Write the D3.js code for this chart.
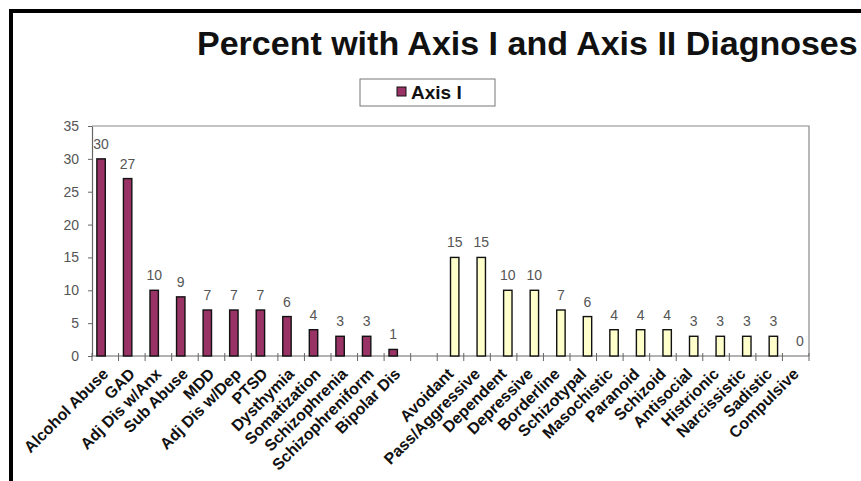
<!DOCTYPE html>
<html>
<head>
<meta charset="utf-8">
<script src="https://cdn.jsdelivr.net/npm/d3@7"></script>
<style>
  body { margin: 0; background: #fff; }
  text { font-family: Arial, "Liberation Sans", sans-serif; }
</style>
</head>
<body>
<div id="chart"></div>
<script>
var axisICategories = ["Alcohol Abuse","GAD","Adj Dis w/Anx","Sub Abuse","MDD","Adj Dis w/Dep","PTSD","Dysthymia","Somatization","Schizophrenia","Schizophreniform","Bipolar Dis"]
var axisIValues = [30,27,10,9,7,7,7,6,4,3,3,1]
var axisIICategories = ["Avoidant","Pass/Aggressive","Dependent","Depressive","Borderline","Schizotypal","Masochistic","Paranoid","Schizoid","Antisocial","Histrionic","Narcissistic","Sadistic","Compulsive"]
var axisIIValues = [15,15,10,10,7,6,4,4,4,3,3,3,3,0]
var seriesNames = ["Axis I","Axis II"]
var yTicks = [0,5,10,15,20,25,30,35]

var categories = axisICategories.concat([" "], axisIICategories)

var bars = []
axisICategories.forEach(function(c, i) { bars.push({cat: c, series: "Axis I", value: axisIValues[i]}) })
axisIICategories.forEach(function(c, i) { bars.push({cat: c, series: "Axis II", value: axisIIValues[i]}) })

var W = 861, H = 481
var plot = {left: 92, right: 809, top: 126, bottom: 356}

var svg = d3.select("#chart").append("svg")
    .attr("width", W)
    .attr("height", H)

var x0 = d3.scaleBand()
    .domain(categories)
    .range([plot.left, plot.right])
var x1 = d3.scaleBand()
    .domain(seriesNames)
    .range([0, x0.bandwidth()])
    .paddingInner(0)
    .paddingOuter(0.58)
var y = d3.scaleLinear()
    .domain([0, 35])
    .range([plot.bottom, plot.top])

var colors = {"Axis I": "#993366", "Axis II": "#FFFFCC"}

// plot area border (top / right)
svg.append("path")
    .attr("d", "M" + plot.left + "," + plot.top + "H" + plot.right + "V" + plot.bottom)
    .attr("fill", "none")
    .attr("stroke", "#8a8a8a")
    .attr("stroke-width", 1.2)

// y axis
var yAxis = svg.append("g")
    .attr("transform", "translate(" + plot.left + ",0)")
    .call(d3.axisLeft(y).tickValues(yTicks).tickSize(4).tickPadding(9).tickSizeOuter(0))
yAxis.select(".domain").attr("stroke", "#666").attr("stroke-width", 1.2)
yAxis.selectAll(".tick line").attr("stroke", "#666")
yAxis.selectAll("text")
    .attr("fill", "#555")
    .style("font-size", "14px")

// x axis line + cross ticks at category boundaries
svg.append("line")
    .attr("x1", plot.left).attr("x2", plot.right)
    .attr("y1", y(0)).attr("y2", y(0))
    .attr("stroke", "#666")
    .attr("stroke-width", 1.2)
svg.selectAll(".xtick")
    .data(categories.concat(["end"]))
    .enter()
    .append("line")
    .attr("class", "xtick")
    .attr("x1", function(d, i) { return plot.left + i * x0.step() })
    .attr("x2", function(d, i) { return plot.left + i * x0.step() })
    .attr("y1", y(0) - 3)
    .attr("y2", y(0) + 5)
    .attr("stroke", "#666")

// bars
svg.selectAll(".bar")
    .data(bars)
    .enter()
    .append("rect")
    .attr("class", "bar")
    .attr("x", function(d) { return x0(d.cat) + x1(d.series) })
    .attr("y", function(d) { return y(d.value) })
    .attr("width", x1.bandwidth())
    .attr("height", function(d) { return y(0) - y(d.value) })
    .attr("fill", function(d) { return colors[d.series] })
    .attr("stroke", "#111")
    .attr("stroke-width", 1.4)

// value labels
svg.selectAll(".vlabel")
    .data(bars)
    .enter()
    .append("text")
    .attr("class", "vlabel")
    .attr("x", function(d) { return x0(d.cat) + x1(d.series) + x1.bandwidth() / 2 })
    .attr("y", function(d) { return y(d.value) - 10 })
    .attr("text-anchor", "middle")
    .attr("fill", "#555")
    .style("font-size", "14px")
    .text(function(d) { return d.value })

// category labels
svg.selectAll(".xlabel")
    .data(categories)
    .enter()
    .append("text")
    .attr("class", "xlabel")
    .attr("transform", function(d) {
        return "translate(" + (x0(d) + x0.bandwidth() / 2 + 4) + "," + (y(0) + 19) + ") rotate(-45)"
    })
    .attr("text-anchor", "end")
    .attr("fill", "#111")
    .style("font-size", "16px")
    .style("font-weight", "bold")
    .text(function(d) { return d })

// title
svg.append("text")
    .attr("x", 197)
    .attr("y", 55)
    .attr("fill", "#111")
    .style("font-size", "34px")
    .style("font-weight", "bold")
    .text("Percent with Axis I and Axis II Diagnoses")

// legend
var legend = svg.append("g")
legend.append("rect")
    .attr("x", 360).attr("y", 79)
    .attr("width", 135).attr("height", 27)
    .attr("fill", "#fff")
    .attr("stroke", "#777")
legend.append("rect")
    .attr("x", 397).attr("y", 87)
    .attr("width", 9).attr("height", 9)
    .attr("fill", colors["Axis I"])
    .attr("stroke", "#111")
legend.append("text")
    .attr("x", 411).attr("y", 99)
    .attr("fill", "#111")
    .style("font-size", "19px")
    .style("font-weight", "bold")
    .text(seriesNames[0])

// outer frame (top and left only, rest is cropped)
svg.append("path")
    .attr("d", "M11," + H + "V11H" + W)
    .attr("fill", "none")
    .attr("stroke", "#000")
    .attr("stroke-width", 4)
</script>
</body>
</html>
